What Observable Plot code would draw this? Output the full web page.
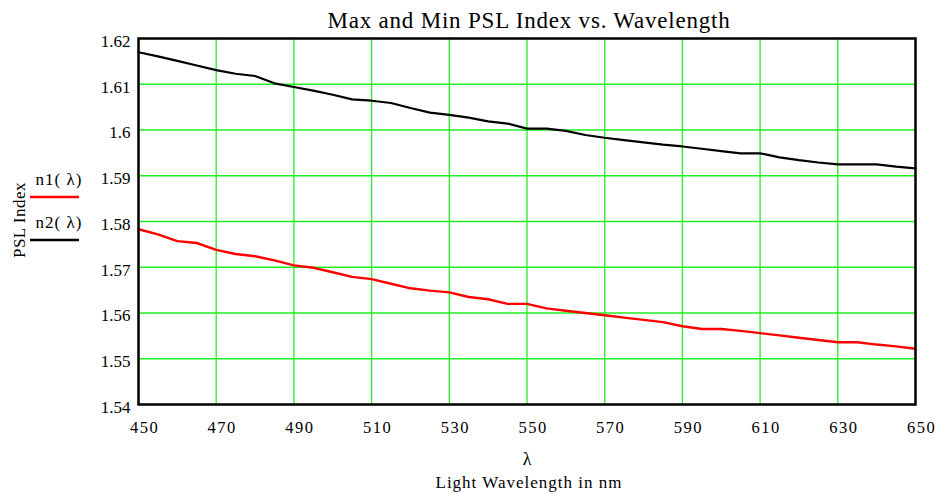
<!DOCTYPE html>
<html><head><meta charset="utf-8">
<script src="https://cdn.jsdelivr.net/npm/d3@7"></script>
<script src="https://cdn.jsdelivr.net/npm/@observablehq/plot@0.6"></script>
<style>
body{margin:0;background:#fff;}
svg{font-family:"Liberation Serif","DejaVu Serif",serif;}
</style></head>
<body><div id="chart"></div>
<script>
const wavelengths = [450,455,460,465,470,475,480,485,490,495,500,505,510,515,520,525,530,535,540,545,550,555,560,565,570,575,580,585,590,595,600,605,610,615,620,625,630,635,640,645,650];
const n1 = [1.5783,1.5772,1.5757,1.5753,1.5738,1.5729,1.5724,1.5715,1.5704,1.5699,1.5689,1.5679,1.5674,1.5664,1.5654,1.5649,1.5645,1.5635,1.5630,1.5620,1.5620,1.5610,1.5605,1.5600,1.5595,1.5590,1.5585,1.5580,1.5571,1.5565,1.5565,1.5561,1.5556,1.5551,1.5546,1.5541,1.5536,1.5536,1.5531,1.5527,1.5522];
const n2 = [1.6170,1.6161,1.6151,1.6141,1.6131,1.6123,1.6118,1.6102,1.6094,1.6086,1.6077,1.6067,1.6064,1.6059,1.6048,1.6038,1.6033,1.6027,1.6019,1.6014,1.6003,1.6003,1.5998,1.5989,1.5983,1.5978,1.5973,1.5968,1.5964,1.5959,1.5954,1.5949,1.5949,1.5940,1.5934,1.5929,1.5925,1.5925,1.5925,1.5920,1.5916];
const xTicks = [450,470,490,510,530,550,570,590,610,630,650];
const yTicks = [1.54,1.55,1.56,1.57,1.58,1.59,1.60,1.61,1.62];
const seriesNames = ["n1( λ)","n2( λ)"];
const seriesColors = ["#ff0000","#000000"];
const title = "Max and Min PSL Index vs. Wavelength";
const xLabel1 = "λ";
const xLabel2 = "Light Wavelength in nm";
const yLabel = "PSL Index";

const d1 = wavelengths.map((w,i)=>({w, v:n1[i]}));
const d2 = wavelengths.map((w,i)=>({w, v:n2[i]}));

const W=935, H=493, mL=138, mR=20, mT=38, mB=89;
const chart = Plot.plot({
  width:W, height:H, marginLeft:mL, marginRight:mR, marginTop:mT, marginBottom:mB,
  style:{fontFamily:'"Liberation Serif",serif', fontSize:"16px", background:"#fff", color:"#000"},
  x:{domain:[450,650]},
  y:{domain:[1.54,1.62]},
  marks:[
    Plot.gridX(xTicks.slice(1,-1), {stroke:"#22ee22", strokeOpacity:1, strokeWidth:1.3}),
    Plot.gridY(yTicks.slice(1,-1), {stroke:"#22ee22", strokeOpacity:1, strokeWidth:1.3}),
    Plot.axisX(xTicks, {tickSize:0, tickPadding:17, label:null, fontSize:16.5, dx:6}),
    Plot.axisY(yTicks, {tickSize:0, tickPadding:8, label:null, fontSize:17, dy:3, tickFormat:d=>String(+d.toFixed(2))}),
    Plot.line(d1, {x:"w", y:"v", stroke:seriesColors[0], strokeWidth:2.4}),
    Plot.line(d2, {x:"w", y:"v", stroke:seriesColors[1], strokeWidth:2.2}),
    Plot.frame({stroke:"#000", strokeWidth:2.5})
  ]
});
const svg = d3.select(chart);
svg.selectAll('[aria-label="x-axis tick label"] text').attr("letter-spacing", 1.5);
svg.append("text").attr("x",529).attr("y",28).attr("text-anchor","middle").attr("font-size",23).attr("letter-spacing",0.8).text(title);
svg.append("text").attr("x",527).attr("y",465).attr("text-anchor","middle").attr("font-size",18).text(xLabel1);
svg.append("text").attr("x",529).attr("y",488).attr("text-anchor","middle").attr("font-size",17).attr("letter-spacing",1).text(xLabel2);
svg.append("text").attr("transform","translate(25,220) rotate(-90)").attr("text-anchor","middle").attr("font-size",17).attr("letter-spacing",0.5).text(yLabel);
const legY = [185, 228];
const lineY = [197, 240];
seriesNames.forEach((n,i)=>{
  svg.append("text").attr("x",59).attr("y",legY[i]).attr("text-anchor","middle").attr("font-size",17).attr("letter-spacing",1).text(n);
  svg.append("line").attr("x1",30).attr("x2",79).attr("y1",lineY[i]).attr("y2",lineY[i]).attr("stroke",seriesColors[i]).attr("stroke-width",2.4);
});
document.getElementById("chart").appendChild(chart);
</script></body></html>
